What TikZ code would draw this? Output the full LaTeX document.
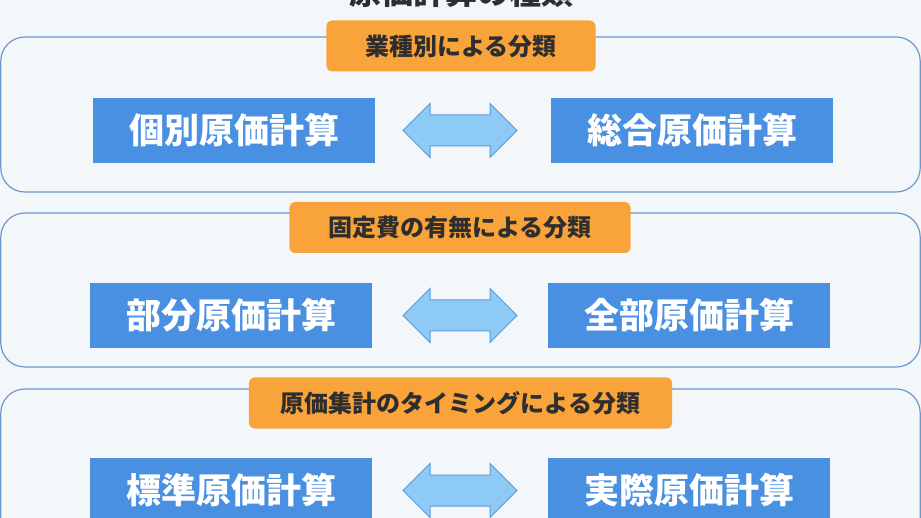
\documentclass[tikz,border=0pt]{standalone}
\usepackage{fontspec}
\setmainfont{Noto Sans CJK JP}
\usepackage{tikz}
\usetikzlibrary{calc, shapes.arrows}

\definecolor{pageBg}{HTML}{F4F7FA}
\definecolor{panelLine}{HTML}{6B98CF}
\definecolor{boxBlue}{HTML}{4A90E2}
\definecolor{tagOrange}{HTML}{F9A33B}
\definecolor{tagText}{HTML}{2E2E2E}
\definecolor{arrowFill}{HTML}{8DCBF6}
\definecolor{arrowLine}{HTML}{5C9BD6}

\tikzset{
	panel/.style = {draw = panelLine, line width = 1.2pt, rounded corners = 24pt},
	heading/.style = {text = tagText, font = \bfseries\fontsize{32}{32}\selectfont},
	category/.style = {fill = tagOrange, rounded corners = 6pt, text = tagText, font = \bfseries\fontsize{24}{24}\selectfont, minimum height = 51pt, inner xsep = 39pt},
	method/.style = {fill = boxBlue, text = white, font = \bfseries\fontsize{35}{35}\selectfont, minimum width = 282pt, minimum height = 65pt},
	versus/.style = {double arrow, draw = arrowLine, fill = arrowFill, line width = 1pt, inner sep = 15pt, minimum height = 114pt, double arrow head extend = 11.5pt, double arrow tip angle = 90}
}

\begin{document}
\begin{tikzpicture}[x = 1pt, y = -1pt]
					\def\xMIN{0};
					\def\xMAX{921};
					\def\yMIN{0};
					\def\yMAX{518};

					\def\panelLeft{0.8};
					\def\panelRight{920.2};

					\useasboundingbox (\xMIN,\yMIN) rectangle (\xMAX,\yMAX);
					\clip (\xMIN,\yMIN) rectangle (\xMAX,\yMAX);
					\fill [pageBg] (\xMIN,\yMIN) rectangle (\xMAX,\yMAX);

					\node [heading] (title) at (461,-8) {原価計算の種類};

					\begin{scope}
						\draw [panel] (\panelLeft,37) rectangle (\panelRight,192);
						\draw [panel] (\panelLeft,213) rectangle (\panelRight,367);
						\draw [panel] (\panelLeft,389) rectangle (\panelRight,545);
					\end{scope}

					\begin{scope}
						\node [category] (byIndustry) at (461,46) {業種別による分類};
						\node [category] (byFixedCost) at (460,227.5) {固定費の有無による分類};
						\node [category, inner xsep = 32pt] (byTiming) at (460.5,403) {原価集計のタイミングによる分類};
					\end{scope}

					\begin{scope}
						\node [method] (jobOrder) at (234,130.5) {個別原価計算};
						\node [method] (process) at (692,130.5) {総合原価計算};
						\node [method] (direct) at (231,315.5) {部分原価計算};
						\node [method] (absorption) at (689,315.5) {全部原価計算};
						\node [method] (standard) at (231,490.5) {標準原価計算};
						\node [method] (actual) at (689,490.5) {実際原価計算};
					\end{scope}

					\begin{scope}
						\node [versus] (vsIndustry) at (460,130.5) {};
						\node [versus] (vsFixedCost) at (460,315.5) {};
						\node [versus] (vsTiming) at (460,490.5) {};
					\end{scope}

				\end{tikzpicture}
\end{document}
